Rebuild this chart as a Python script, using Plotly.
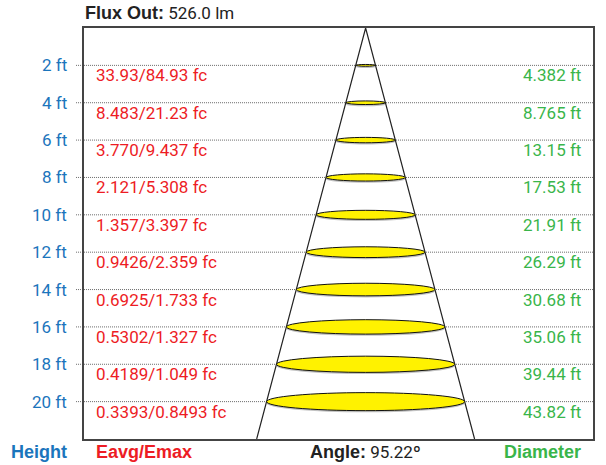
import math
import plotly.graph_objects as go

# ---- data ----
heights_ft = [2, 4, 6, 8, 10, 12, 14, 16, 18, 20]
eavg_fc = [33.93, 8.483, 3.770, 2.121, 1.357, 0.9426, 0.6925, 0.5302, 0.4189, 0.3393]
emax_fc = [84.93, 21.23, 9.437, 5.308, 3.397, 2.359, 1.733, 1.327, 1.049, 0.8493]
diameter_ft = [4.382, 8.765, 13.15, 17.53, 21.91, 26.29, 30.68, 35.06, 39.44, 43.82]
beam_angle_deg = 95.22
flux_out_lm = 526.0

# ---- styling ----
BLUE = "#1b75bc"
RED = "#ed1c24"
GREEN = "#39b54a"
YELLOW = "#fff200"
FONT = "Roboto, Liberation Sans, Arial, sans-serif"
BFONT = "Liberation Sans, Arial, sans-serif"
FS = 17
BFS = 18

W, H = 606, 465
ML, MR, MT, MB = 84, 11, 28, 26
PW = W - ML - MR
PH = H - MT - MB

Y_MAX = 22
X_MIN, X_MAX = -62.3, 50.3


def bold(s):
    return (f"<span style=\"font-family:'Liberation Sans', Arial, sans-serif;"
            f"font-size:{BFS}px;font-weight:bold\">{s}</span>")


fig = go.Figure()

# cone edges
r_bottom = Y_MAX * math.tan(math.radians(beam_angle_deg / 2))
fig.add_trace(go.Scatter(
    x=[-r_bottom, 0, r_bottom], y=[Y_MAX, 0, Y_MAX],
    mode="lines", line=dict(color="#222222", width=1.2),
    hoverinfo="skip", showlegend=False, cliponaxis=True,
))

shapes = []
annotations = []

for h, ea, em, d in zip(heights_ft, eavg_fc, emax_fc, diameter_ft):
    # dotted grid line incl. outside tick
    shapes.append(dict(type="line", xref="paper", yref="y",
                       x0=-8 / PW, x1=1, y0=h, y1=h,
                       line=dict(color="#6a6a6a", width=1, dash="1px,1px"),
                       layer="below"))
    k = 0.011 * d
    # shadow
    shapes.append(dict(type="circle", xref="x", yref="y",
                       x0=-d / 2, x1=d / 2, y0=h - k + 0.09, y1=h + k + 0.09,
                       fillcolor="rgba(120,120,120,0.45)", line=dict(width=0),
                       layer="above"))
    # ellipse
    shapes.append(dict(type="circle", xref="x", yref="y",
                       x0=-d / 2, x1=d / 2, y0=h - k, y1=h + k,
                       fillcolor=YELLOW, line=dict(color="#111111", width=1),
                       layer="above"))
    # height label
    annotations.append(dict(xref="paper", yref="y", x=(69 - ML) / PW, y=h,
                            xanchor="right", yanchor="middle",
                            text=f"{h} ft", showarrow=False,
                            font=dict(family=FONT, size=FS, color=BLUE)))
    # illuminance label
    annotations.append(dict(xref="paper", yref="y", x=(94 - ML) / PW, y=h,
                            xanchor="left", yanchor="middle", yshift=-10,
                            text=f"{ea:#.4g}/{em:#.4g} fc", showarrow=False,
                            font=dict(family=FONT, size=FS, color=RED)))
    # diameter label
    annotations.append(dict(xref="paper", yref="y", x=(585 - ML) / PW, y=h,
                            xanchor="right", yanchor="middle", yshift=-10,
                            text=f"{d:#.4g} ft", showarrow=False,
                            font=dict(family=FONT, size=FS, color=GREEN)))

# footer labels
fy = -(452 - (MT + PH)) / PH
annotations += [
    dict(xref="paper", yref="paper", x=(69 - ML) / PW, y=fy, xanchor="right",
         yanchor="middle", text="<b>Height</b>", showarrow=False,
         font=dict(family=BFONT, size=BFS, color=BLUE)),
    dict(xref="paper", yref="paper", x=(94 - ML) / PW, y=fy, xanchor="left",
         yanchor="middle", text="<b>Eavg/Emax</b>", showarrow=False,
         font=dict(family=BFONT, size=BFS, color=RED)),
    dict(xref="x", yref="paper", x=0, y=fy, xanchor="center",
         yanchor="middle", text=f"{bold('Angle:')} {beam_angle_deg}º", showarrow=False,
         font=dict(family=FONT, size=FS, color="#222222")),
    dict(xref="paper", yref="paper", x=(585 - ML) / PW, y=fy, xanchor="right",
         yanchor="middle", text="<b>Diameter</b>", showarrow=False,
         font=dict(family=BFONT, size=BFS, color=GREEN)),
    dict(xref="paper", yref="paper", x=-1 / PW, y=1 + (MT - 13) / PH, xanchor="left",
         yanchor="middle", text=f"{bold('Flux Out:')} {flux_out_lm:#.4g} lm",
         showarrow=False, font=dict(family=FONT, size=FS, color="#222222")),
]

fig.update_layout(
    width=W, height=H,
    margin=dict(l=ML, r=MR, t=MT, b=MB, pad=0),
    paper_bgcolor="white", plot_bgcolor="white",
    showlegend=False,
    xaxis=dict(range=[X_MIN, X_MAX], showgrid=False, zeroline=False,
               showticklabels=False, ticks="", showline=True, mirror=True,
               linecolor="#444444", linewidth=2, fixedrange=True),
    yaxis=dict(range=[Y_MAX, 0], showgrid=False, zeroline=False,
               showticklabels=False, ticks="", showline=True, mirror=True,
               linecolor="#444444", linewidth=2, fixedrange=True),
    shapes=shapes,
    annotations=annotations,
)

fig.write_html(
    "out.html",
    config={"displayModeBar": False},
    post_script="document.body.style.margin='0px';document.body.style.overflow='hidden';",
)
